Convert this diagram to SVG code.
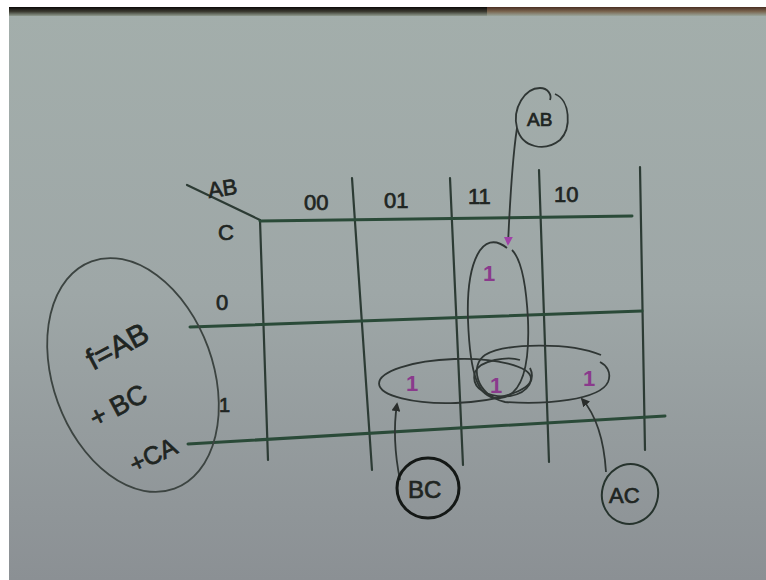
<svg xmlns="http://www.w3.org/2000/svg" width="766" height="580" viewBox="0 0 766 580">
  <defs>
    <linearGradient id="board" x1="0" y1="0" x2="0" y2="1">
      <stop offset="0" stop-color="#a3aeab"/>
      <stop offset="0.5" stop-color="#9ea7a7"/>
      <stop offset="1" stop-color="#8b9094"/>
    </linearGradient>
    <linearGradient id="frameL" x1="0" y1="0" x2="0" y2="1">
      <stop offset="0" stop-color="#0c0a08"/>
      <stop offset="0.5" stop-color="#3b3a30"/>
      <stop offset="1" stop-color="#8f9a8e"/>
    </linearGradient>
    <linearGradient id="frameR" x1="0" y1="0" x2="0" y2="1">
      <stop offset="0" stop-color="#4a2e22"/>
      <stop offset="0.5" stop-color="#7a6650"/>
      <stop offset="1" stop-color="#9aa69c"/>
    </linearGradient>
    <marker id="tip" viewBox="0 0 10 10" refX="8" refY="5" markerWidth="5" markerHeight="5" orient="auto">
      <path d="M0,0 L10,5 L0,10 z" fill="#2a2e2c"/>
    </marker>
    <marker id="tipM" viewBox="0 0 10 10" refX="8" refY="5" markerWidth="5" markerHeight="5" orient="auto">
      <path d="M0,0 L10,5 L0,10 z" fill="#a040a8"/>
    </marker>
  </defs>
  <style>
    .grid { stroke: #2c3b34; stroke-width: 2.2; fill: none; stroke-linecap: round; }
    .row { stroke: #2a4a38; stroke-width: 3; fill: none; stroke-linecap: round; }
    .loop { stroke: #2f3634; stroke-width: 1.8; fill: none; }
    .hand { font-family: "Liberation Sans", Arial, sans-serif; fill: #1f2522; stroke: #1f2522; stroke-width: 0.7; }
    .one { font-family: "Liberation Sans", Arial, sans-serif; fill: #8a3a8c; font-size: 22px; font-weight: bold; }
    .lead { stroke: #2f3634; stroke-width: 1.8; fill: none; }
  </style>

  <!-- board and frame -->
  <rect x="0" y="0" width="766" height="580" fill="#ffffff"/>
  <rect x="9" y="7" width="757" height="573" fill="url(#board)"/>
  <rect x="9" y="7" width="478" height="9" fill="url(#frameL)"/>
  <rect x="487" y="7" width="279" height="9" fill="url(#frameR)"/>

  <!-- K-map grid -->
  <g id="grid">
    <line class="grid" x1="187" y1="185" x2="260" y2="220"/>
    <line class="grid" x1="260" y1="220" x2="268" y2="460"/>
    <line class="grid" x1="352" y1="178" x2="372" y2="470"/>
    <line class="grid" x1="450" y1="178" x2="463" y2="465"/>
    <line class="grid" x1="539" y1="170" x2="549" y2="462"/>
    <line class="grid" x1="640" y1="167" x2="645" y2="450"/>
    <line class="row" x1="260" y1="221" x2="632" y2="216"/>
    <line class="row" x1="190" y1="327" x2="642" y2="311"/>
    <line class="row" x1="188" y1="444" x2="665" y2="416"/>
  </g>

  <!-- axis labels -->
  <g id="labels">
    <text class="hand" x="208" y="196" font-size="22" transform="rotate(-8 222 190)">AB</text>
    <text class="hand" x="218" y="240" font-size="22">C</text>
    <text class="hand" x="216" y="310" font-size="22">0</text>
    <text class="hand" x="219" y="412" font-size="20">1</text>
    <text class="hand" x="304" y="210" font-size="22">00</text>
    <text class="hand" x="384" y="208" font-size="22">01</text>
    <text class="hand" x="468" y="204" font-size="22">11</text>
    <text class="hand" x="554" y="202" font-size="22">10</text>
  </g>

  <!-- map cells holding 1 -->
  <g id="cells">
    <text class="one" x="483" y="281">1</text>
    <text class="one" x="406" y="391">1</text>
    <text class="one" x="490" y="393">1</text>
    <text class="one" x="583" y="386">1</text>
  </g>

  <!-- groupings -->
  <g id="loop-AB">
    <path class="loop" d="M507,248 C482,228 466,262 468,320 C470,375 478,400 500,398 C520,396 530,370 528,320 C526,280 520,258 512,250"/>
  </g>
  <g id="loop-BC">
    <ellipse class="loop" cx="455" cy="381" rx="76" ry="22" transform="rotate(-2 455 381)"/>
  </g>
  <g id="loop-AC">
    <path class="loop" d="M601,355 C570,342 505,343 485,355 C470,365 475,395 505,402 C545,405 600,400 608,382 C612,372 606,365 600,362"/>
    <path class="loop" d="M520,360 C508,356 480,360 475,372 C470,390 490,398 510,396 C530,393 535,378 530,368"/>
  </g>

  <!-- tags and leaders -->
  <g id="connectors">
    <path class="lead" d="M517,128 C512,160 510,200 508,244" marker-end="url(#tipM)"/>
    <path class="lead" d="M400,480 C395,455 393,430 397,404" marker-end="url(#tip)"/>
    <path class="lead" d="M606,472 C604,440 596,415 582,399" marker-end="url(#tip)"/>
  </g>
  <g id="tag-AB">
    <path class="loop" d="M555,94 C570,100 572,128 560,140 C545,152 522,148 517,128 C512,108 525,88 540,88 C548,88 552,95 550,100"/>
    <text class="hand" x="527" y="126" font-size="19">AB</text>
  </g>
  <g id="tag-BC">
    <ellipse cx="428" cy="488" rx="31" ry="30" fill="none" stroke="#141816" stroke-width="3"/>
    <text class="hand" x="408" y="498" font-size="24">BC</text>
  </g>
  <g id="tag-AC">
    <ellipse cx="630" cy="494" rx="28" ry="30" fill="none" stroke="#26332d" stroke-width="2" transform="rotate(15 630 494)"/>
    <text class="hand" x="609" y="503" font-size="22">AC</text>
  </g>

  <!-- result expression -->
  <g id="expression">
    <ellipse cx="133" cy="375" rx="80" ry="121" fill="none" stroke="#3c4441" stroke-width="1.8" transform="rotate(-20 133 375)"/>
    <text class="hand" x="76" y="358" font-size="30" transform="rotate(-28 110 330)">f=AB</text>
    <text class="hand" x="84" y="418" font-size="27" transform="rotate(-28 110 400)">+ BC</text>
    <text class="hand" x="124" y="464" font-size="25" transform="rotate(-25 150 445)">+CA</text>
  </g>
</svg>
